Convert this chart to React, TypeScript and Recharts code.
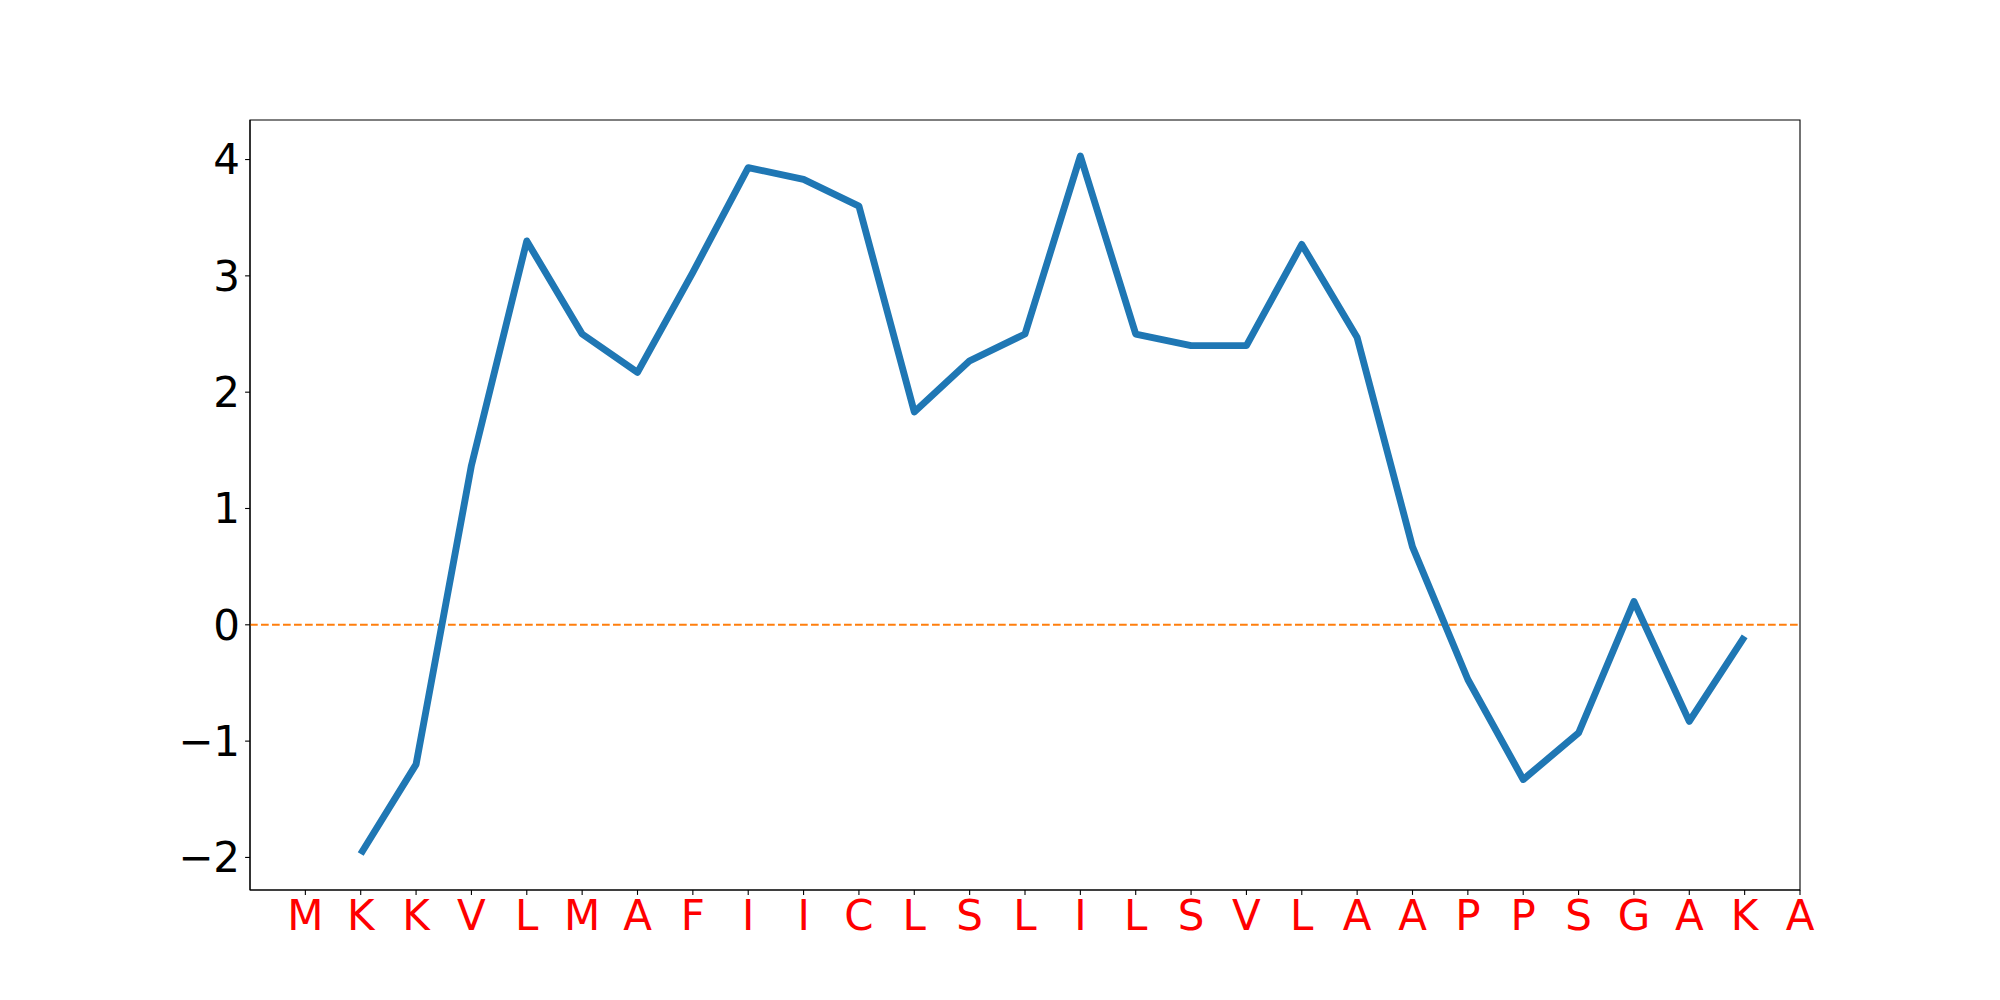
import { LineChart, Line, XAxis, YAxis, ReferenceLine, ReferenceArea } from 'recharts'

// residue sequence shown on the x axis
const residues = ['M', 'K', 'K', 'V', 'L', 'M', 'A', 'F', 'I', 'I', 'C', 'L', 'S', 'L', 'I', 'L', 'S', 'V', 'L', 'A', 'A', 'P', 'P', 'S', 'G', 'A', 'K', 'A']

// hydropathy score per residue (window of 3, ends empty)
const scores: (number | null)[] = [
  null, -1.97, -1.2, 1.37, 3.3, 2.5, 2.17, 3.03, 3.93, 3.83, 3.6, 1.83, 2.27, 2.5,
  4.03, 2.5, 2.4, 2.4, 3.27, 2.47, 0.67, -0.47, -1.33, -0.93, 0.2, -0.83, -0.1, null,
]

const yTicks = [-2, -1, 0, 1, 2, 3, 4]
const xDomain: [number, number] = [-1, 27]
const yDomain: [number, number] = [-2.28, 4.34]

const data = residues.map((r, i) => ({ pos: i, residue: r, score: scores[i] }))

const FONT = '"DejaVu Sans", sans-serif'
const FS = 42

export default function App() {
  return (
    <div style={{ position: 'absolute', left: 0, top: 0, width: 2000, height: 1000, background: '#fff' }}>
      <LineChart
        width={2000}
        height={1000}
        data={data}
        margin={{ top: 120, right: 200, left: 150, bottom: 50 }}
      >
        <XAxis
          dataKey="pos"
          type="number"
          domain={xDomain}
          ticks={residues.map((_, i) => i)}
          tickFormatter={(v: number) => residues[v] ?? ''}
          interval={0}
          height={60}
          stroke="#000"
          strokeWidth={1.1}
          tickSize={4.9}
          tickMargin={5}
          tick={{ fill: '#ff0000', fontSize: FS, fontFamily: FONT }}
          allowDataOverflow
        />
        <YAxis
          type="number"
          domain={yDomain}
          ticks={yTicks}
          tickFormatter={(v: number) => (v < 0 ? '\u2212' + Math.abs(v) : String(v))}
          width={100}
          stroke="#000"
          strokeWidth={1.1}
          tickSize={4.9}
          tickMargin={5}
          tick={{ fill: '#000', fontSize: FS, fontFamily: FONT }}
          allowDataOverflow
        />
        <ReferenceArea
          x1={xDomain[0]}
          x2={xDomain[1]}
          y1={yDomain[0]}
          y2={yDomain[1]}
          fill="none"
          stroke="#000"
          strokeWidth={1.1}
          ifOverflow="visible"
        />
        <ReferenceLine y={0} stroke="#ff7f0e" strokeWidth={2} strokeDasharray="7.7 3.3" />
        <Line
          dataKey="score"
          type="linear"
          stroke="#1f77b4"
          strokeWidth={6.9}
          strokeLinejoin="round"
          dot={false}
          activeDot={false}
          isAnimationActive={false}
        />
      </LineChart>
    </div>
  )
}
